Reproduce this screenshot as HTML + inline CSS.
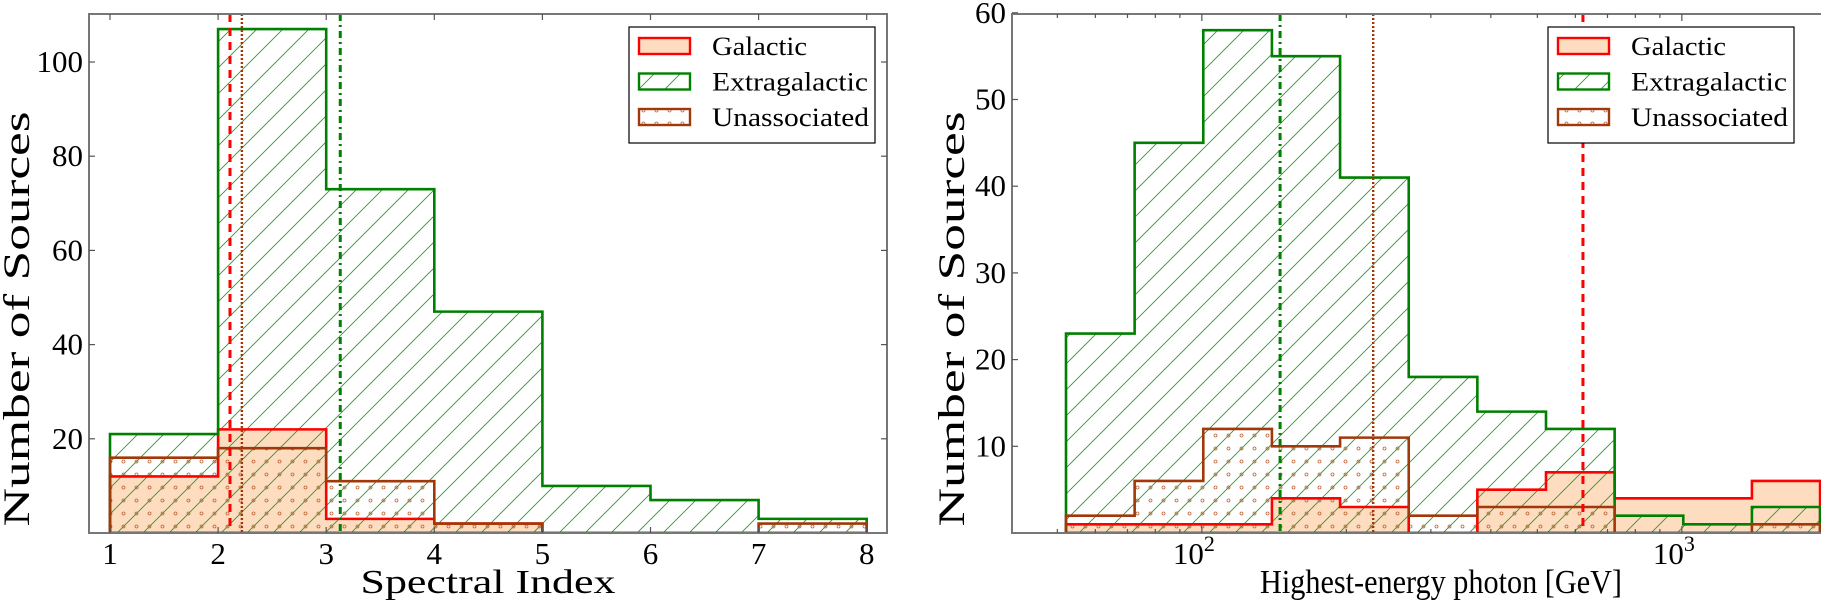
<!DOCTYPE html>
<html><head><meta charset="utf-8">
<style>
html,body{margin:0;padding:0;background:#fff;}
svg{display:block;font-family:"Liberation Serif",serif;}
</style></head>
<body>
<svg id="fig" width="1821" height="607" viewBox="0 0 1821 607" xmlns="http://www.w3.org/2000/svg">
<defs>
<pattern id="hatch" patternUnits="userSpaceOnUse" width="26" height="26">
<path d="M-2,28 L28,-2 M-15,15 L15,-15 M11,41 L41,11" stroke="#2e9a2e" stroke-width="0.9"/>
</pattern>
<pattern id="dots" patternUnits="userSpaceOnUse" width="13" height="13">
<circle cx="6.5" cy="6.5" r="1.5" fill="none" stroke="#b8663a" stroke-width="0.8"/>
</pattern>
<clipPath id="clipL"><rect x="89" y="14" width="798" height="519"/></clipPath>
<clipPath id="clipR"><rect x="1012" y="14" width="809" height="519"/></clipPath>
</defs>
<g id="left"></g>
<g id="right"></g>
</svg>
<script>
// ---- Left chart data (bins of spectral index) ----
const leftEdges = [1,2,3,4,5,6,7,8];
const leftGalactic = [12,22,3,2,0,0,0];
const leftExtragalactic = [21,107,73,47,10,7,3];
const leftUnassociated = [16,18,11,2,0,0,2];
const leftMedians = [2.11, 3.13, 2.22]; // galactic, extragalactic, unassociated
const leftXTicks = [1,2,3,4,5,6,7,8];
const leftYTicks = [20,40,60,80,100];

// ---- Right chart data (log10 energy bins) ----
const rightEdgesLog = [1.717,1.860,2.003,2.146,2.288,2.431,2.574,2.717,2.860,3.003,3.146,3.288];
const rightGalactic = [1,1,1,4,3,0,5,7,4,4,6];
const rightExtragalactic = [23,45,58,55,41,18,14,12,2,1,3];
const rightUnassociated = [2,6,12,10,11,2,3,3,0,0,1];
const rightMediansLog = [2.794, 2.163, 2.357];
const rightYTicks = [10,20,30,40,50,60];
const rightMajorLog = [2,3];

const NS='http://www.w3.org/2000/svg';
function mk(parent,tag,attrs,text){
  const e=document.createElementNS(NS,tag);
  for(const k in attrs) e.setAttribute(k,attrs[k]);
  if(text!==undefined) e.textContent=text;
  parent.appendChild(e); return e;
}
function stepPath(edges,vals,X,Y){
  let d='M'+X(edges[0])+','+Y(0);
  for(let i=0;i<vals.length;i++){
    d+=' L'+X(edges[i])+','+Y(vals[i])+' L'+X(edges[i+1])+','+Y(vals[i]);
  }
  d+=' L'+X(edges[vals.length])+','+Y(0)+' Z';
  return d;
}
const RED='#ff0000', GREEN='#008000', BROWN='#a0380a';

function drawPanel(g,cfg){
  const {X,Y,x0,x1,y0,y1,edges,gal,ext,una,med,clip}=cfg;
  const cg=mk(g,'g',{'clip-path':'url(#'+clip+')'});
  let p=mk(cg,'path',{d:stepPath(edges,gal,X,Y),fill:'#fddcbf',stroke:'none'});
  
  
  p=mk(cg,'path',{d:stepPath(edges,ext,X,Y),fill:'url(#hatch)',stroke:'none'});
  
  
  p=mk(cg,'path',{d:stepPath(edges,una,X,Y),fill:'url(#dots)',stroke:'none'});
  
  
  p=mk(cg,'path',{d:stepPath(edges,gal,X,Y),fill:'none',stroke:RED,'stroke-width':2.6});
  
  
  p=mk(cg,'path',{d:stepPath(edges,ext,X,Y),fill:'none',stroke:GREEN,'stroke-width':2.6});
  
  
  p=mk(cg,'path',{d:stepPath(edges,una,X,Y),fill:'none',stroke:BROWN,'stroke-width':2.6});
  
  
  const styles=[[RED,'8,6',3],[GREEN,'7,4,2,4',3],[BROWN,'2,2',2.4]];
  const names=['galactic-median-line','extragalactic-median-line','unassociated-median-line'];
  med.forEach((m,i)=>{
    const l=mk(cg,'line',{x1:X(m),x2:X(m),y1:y0,y2:y1,stroke:styles[i][0],'stroke-dasharray':styles[i][1],'stroke-width':styles[i][2]});
    
    
  });
  const f=mk(g,'rect',{x:x0,y:y0,width:x1-x0,height:y1-y0,fill:'none',stroke:'#777','stroke-width':2});
  
  
}
function tick(g,x1,y1,x2,y2){mk(g,'line',{x1,y1,x2,y2,stroke:'#555','stroke-width':1.2});}
function legend(g,lx){
  const box=mk(g,'rect',{x:lx,y:27,width:246,height:116,fill:'#fff',stroke:'#000','stroke-width':1.2});
  
  
  const items=[['Galactic','#fddcbf',RED,95],['Extragalactic','url(#hatch)',GREEN,156],['Unassociated','url(#dots)',BROWN,157]];
  items.forEach((it,i)=>{
    const cy=46+i*35.5;
    const r=mk(g,'rect',{x:lx+10,y:cy-8,width:51,height:16,fill:it[1],stroke:it[2],'stroke-width':2.4});
    
    
    const t=mk(g,'text',{x:lx+83,y:cy+9,'font-size':26,textLength:it[3],lengthAdjust:'spacingAndGlyphs'},it[0]);
    
    
  });
}

// ---- Left panel ----
(function(){
  const g=document.getElementById('left');
  const X=v=>110+(v-1)*108.1, Y=c=>533-c*4.71;
  drawPanel(g,{X,Y,x0:89,x1:887,y0:14,y1:533,edges:leftEdges,gal:leftGalactic,ext:leftExtragalactic,una:leftUnassociated,med:leftMedians,clip:'clipL'});
  leftXTicks.forEach(v=>{
    tick(g,X(v),533,X(v),527); tick(g,X(v),14,X(v),20);
    const t=mk(g,'text',{x:X(v),y:564,'font-size':31,'text-anchor':'middle'},String(v));
    
    
  });
  leftYTicks.forEach(v=>{
    tick(g,89,Y(v),95,Y(v)); tick(g,887,Y(v),881,Y(v));
    const t=mk(g,'text',{x:83,y:Y(v)+10,'font-size':31,'text-anchor':'end'},String(v));
    
    
  });
  let t=mk(g,'text',{x:488,y:593,'font-size':34,'text-anchor':'middle',textLength:255,lengthAdjust:'spacingAndGlyphs'},'Spectral Index');
  
  
  t=mk(g,'text',{x:0,y:0,'font-size':37,'text-anchor':'middle',textLength:415,lengthAdjust:'spacingAndGlyphs',transform:'translate(29,319) rotate(-90)'},'Number of Sources');
  
  
  legend(g,629);
})();

// ---- Right panel ----
(function(){
  const g=document.getElementById('right');
  const X=l=>1066+(l-1.717)*480, Y=c=>533-c*8.67;
  drawPanel(g,{X,Y,x0:1012,x1:1822,y0:14,y1:533,edges:rightEdgesLog,gal:rightGalactic,ext:rightExtragalactic,una:rightUnassociated,med:rightMediansLog,clip:'clipR'});
  for(let dec=1;dec<=3;dec++){
    for(let m=1;m<10;m++){
      const l=dec+Math.log10(m);
      const x=X(l); if(x<1012||x>1821) continue;
      const len=(m===1)?7:4;
      tick(g,x,533,x,533-len); tick(g,x,14,x,14+len);
    }
  }
  rightMajorLog.forEach(l=>{
    const t=mk(g,'text',{x:X(l)-8,y:564,'font-size':31,'text-anchor':'middle'},'10');
    
    
    mk(t,'tspan',{dy:-13,'font-size':22},String(l));
  });
  rightYTicks.forEach(v=>{
    tick(g,1012,Y(v),1018,Y(v));
    const t=mk(g,'text',{x:1006,y:Y(v)+10,'font-size':31,'text-anchor':'end'},String(v));
    
    
  });
  let t=mk(g,'text',{x:1441,y:593,'font-size':34,'text-anchor':'middle',textLength:362,lengthAdjust:'spacingAndGlyphs'},'Highest-energy photon [GeV]');
  
  
  t=mk(g,'text',{x:0,y:0,'font-size':37,'text-anchor':'middle',textLength:415,lengthAdjust:'spacingAndGlyphs',transform:'translate(964,319) rotate(-90)'},'Number of Sources');
  
  
  legend(g,1548);
})();
</script>
</body></html>
